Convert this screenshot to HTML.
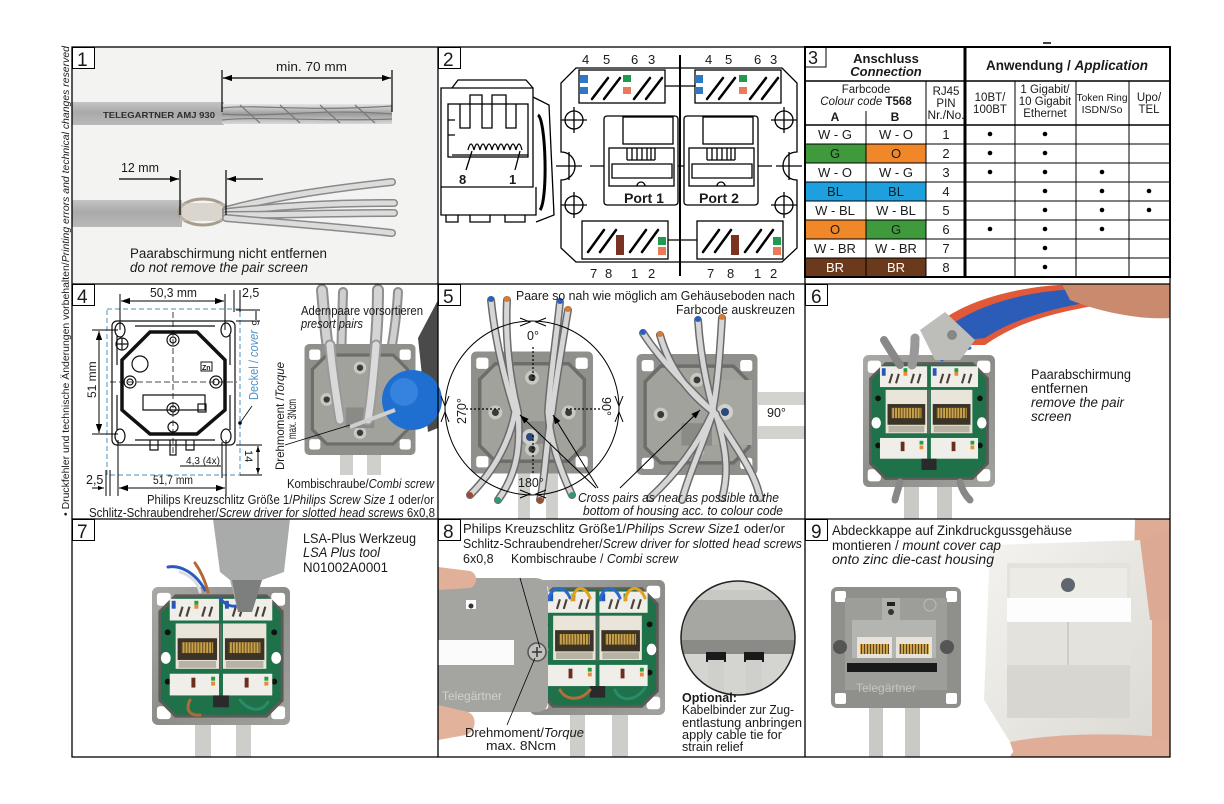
<!DOCTYPE html>
<html><head><meta charset="utf-8">
<style>
html,body{margin:0;padding:0;background:#fff;}
svg{display:block;}
text{font-family:"Liberation Sans",Arial,sans-serif;fill:#1a1a1a;}
</style></head>
<body>
<svg width="1224" height="804" viewBox="0 0 1224 804" xmlns="http://www.w3.org/2000/svg" xmlns:xlink="http://www.w3.org/1999/xlink">
<defs>
  <marker id="ar" viewBox="0 0 10 10" refX="10" refY="5" markerWidth="9" markerHeight="9" orient="auto-start-reverse" markerUnits="userSpaceOnUse"><path d="M0,1.5 L10,5 L0,8.5 z" fill="#000"/></marker>
  <marker id="ars" viewBox="0 0 10 10" refX="10" refY="5" markerWidth="6" markerHeight="6" orient="auto-start-reverse" markerUnits="userSpaceOnUse"><path d="M0,1.5 L10,5 L0,8.5 z" fill="#000"/></marker>
  <linearGradient id="cab" x1="0" y1="0" x2="0" y2="1">
    <stop offset="0" stop-color="#c4c4c4"/><stop offset="0.45" stop-color="#a9a9a9"/><stop offset="1" stop-color="#b9b9b9"/>
  </linearGradient>
  <linearGradient id="foil" x1="0" y1="0" x2="0" y2="1">
    <stop offset="0" stop-color="#e6e6e6"/><stop offset="0.5" stop-color="#9c9c9c"/><stop offset="1" stop-color="#d8d8d8"/>
  </linearGradient>
  <linearGradient id="metal" x1="0" y1="0" x2="1" y2="1">
    <stop offset="0" stop-color="#a9a9a6"/><stop offset="0.5" stop-color="#8c8c89"/><stop offset="1" stop-color="#a2a29f"/>
  </linearGradient>
  <linearGradient id="cap" x1="0" y1="0" x2="1" y2="1">
    <stop offset="0" stop-color="#f4f3ef"/><stop offset="1" stop-color="#dcdad4"/>
  </linearGradient>
  <pattern id="gold" width="3" height="10" patternUnits="userSpaceOnUse">
    <rect width="3" height="10" fill="#c9a24a"/><rect width="1" height="10" fill="#5a4520"/>
  </pattern>
  <symbol id="hs" viewBox="0 0 140 140">
    <rect x="0" y="0" width="140" height="140" rx="6" fill="url(#metal)"/>
    <rect x="5" y="6" width="14" height="13" rx="3" fill="#fff"/>
    <rect x="121" y="6" width="14" height="13" rx="3" fill="#fff"/>
    <rect x="5" y="121" width="14" height="13" rx="3" fill="#fff"/>
    <rect x="121" y="121" width="14" height="13" rx="3" fill="#fff"/>
    <polygon points="24,9 116,9 132,25 132,115 116,131 24,131 8,115 8,25" fill="#1e7149" stroke="#5b5b58" stroke-width="3"/>
    <circle cx="16" cy="46" r="3" fill="#111"/><circle cx="124" cy="46" r="3" fill="#111"/>
    <circle cx="16" cy="96" r="3" fill="#111"/><circle cx="124" cy="96" r="3" fill="#111"/>
    <ellipse cx="14" cy="72" rx="5" ry="6" fill="#fff"/><ellipse cx="126" cy="72" rx="5" ry="6" fill="#fff"/>
    <rect x="18" y="12" width="50" height="22" fill="#efeee9"/>
    <rect x="72" y="12" width="50" height="22" fill="#efeee9"/>
    <rect x="20" y="14" width="4" height="8" fill="#2656b8"/>
    <rect x="43" y="14" width="4" height="4" fill="#2a9a45"/><rect x="43" y="18" width="4" height="4" fill="#e88a30"/>
    <rect x="74" y="14" width="4" height="8" fill="#2656b8"/>
    <rect x="97" y="14" width="4" height="4" fill="#2a9a45"/><rect x="97" y="18" width="4" height="4" fill="#e88a30"/>
    <g stroke="#4a4038" stroke-width="2.2">
      <line x1="28" y1="30" x2="31" y2="20"/><line x1="35" y1="30" x2="38" y2="20"/><line x1="51" y1="30" x2="54" y2="20"/><line x1="58" y1="30" x2="61" y2="20"/>
      <line x1="82" y1="30" x2="85" y2="20"/><line x1="89" y1="30" x2="92" y2="20"/><line x1="105" y1="30" x2="108" y2="20"/><line x1="112" y1="30" x2="115" y2="20"/>
      <line x1="28" y1="106" x2="31" y2="96"/><line x1="35" y1="106" x2="38" y2="96"/><line x1="45" y1="106" x2="48" y2="96"/><line x1="52" y1="106" x2="55" y2="96"/>
      <line x1="82" y1="106" x2="85" y2="96"/><line x1="89" y1="106" x2="92" y2="96"/><line x1="99" y1="106" x2="102" y2="96"/><line x1="106" y1="106" x2="109" y2="96"/>
    </g>
    <rect x="24" y="37" width="44" height="46" fill="#e9e5da"/>
    <rect x="72" y="37" width="44" height="46" fill="#e9e5da"/>
    <rect x="26" y="52" width="40" height="22" fill="#3b3325"/>
    <rect x="74" y="52" width="40" height="22" fill="#3b3325"/>
    <rect x="30" y="56" width="32" height="11" fill="url(#gold)"/>
    <rect x="78" y="56" width="32" height="11" fill="url(#gold)"/>
    <rect x="27" y="75" width="38" height="7" fill="#b8b2a4"/>
    <rect x="75" y="75" width="38" height="7" fill="#b8b2a4"/>
    <line x1="70" y1="37" x2="70" y2="84" stroke="#666" stroke-width="2"/>
    <rect x="18" y="88" width="50" height="22" fill="#efeee9"/>
    <rect x="72" y="88" width="50" height="22" fill="#efeee9"/>
    <rect x="60" y="91" width="4" height="4" fill="#2a9a45"/><rect x="60" y="96" width="4" height="4" fill="#e88a30"/>
    <rect x="114" y="91" width="4" height="4" fill="#2a9a45"/><rect x="114" y="96" width="4" height="4" fill="#e88a30"/>
    <rect x="40" y="92" width="4" height="10" fill="#6a2e1a"/><rect x="94" y="92" width="4" height="10" fill="#6a2e1a"/>
    <rect x="62" y="110" width="16" height="12" fill="#2a2a2a"/>
  </symbol>
  <symbol id="hm" viewBox="0 0 140 140">
    <rect x="0" y="0" width="140" height="140" rx="6" fill="#8f8f8b"/>
    <rect x="6" y="7" width="14" height="13" rx="3" fill="#fff"/>
    <rect x="120" y="7" width="14" height="13" rx="3" fill="#fff"/>
    <rect x="6" y="120" width="14" height="13" rx="3" fill="#fff"/>
    <rect x="120" y="120" width="14" height="13" rx="3" fill="#fff"/>
    <polygon points="28,14 112,14 130,32 130,108 112,126 28,126 10,108 10,32" fill="#a2a29d" stroke="#6d6d69" stroke-width="4"/>
    <circle cx="70" cy="30" r="8" fill="#c8c8c3"/><circle cx="70" cy="30" r="4" fill="#3a3a38"/>
    <circle cx="28" cy="70" r="8" fill="#c8c8c3"/><circle cx="28" cy="70" r="4" fill="#3a3a38"/>
    <circle cx="112" cy="70" r="8" fill="#c8c8c3"/><circle cx="112" cy="70" r="4" fill="#3a3a38"/>
    <circle cx="70" cy="112" r="8" fill="#c8c8c3"/><circle cx="70" cy="112" r="4" fill="#3a3a38"/>
    <rect x="52" y="80" width="36" height="26" fill="#8a8a86"/>
  </symbol>
</defs>

<text transform="translate(69,516) rotate(-90)" font-size="10.5" textLength="470" lengthAdjust="spacingAndGlyphs">• Druckfehler und technische Änderungen vorbehalten/<tspan font-style="italic">Printing errors and technical changes reserved</tspan></text>

<!-- PANEL 1 -->
<rect x="72" y="47" width="366" height="237" fill="#f3f3f1"/>
<rect x="72" y="102" width="152" height="23" fill="url(#cab)"/>
<text x="103" y="118" font-size="8.5" font-weight="bold" textLength="112" lengthAdjust="spacingAndGlyphs" style="fill:#2d2d2d">TELEGARTNER AMJ 930</text>
<rect x="222" y="104" width="170" height="20" fill="url(#foil)"/>
<g stroke="#7a7a7a" stroke-width="1.2" fill="none">
  <path d="M222,108 C260,104 300,112 392,106"/><path d="M222,114 C270,118 320,108 392,114"/><path d="M222,120 C260,116 330,122 392,119"/>
  <path d="M240,105 L260,123 M280,105 L300,123 M320,105 L340,123 M355,105 L375,123"/>
</g>
<rect x="72" y="200" width="110" height="27" fill="url(#cab)"/>
<ellipse cx="203" cy="212" rx="24" ry="13" fill="none" stroke="#a59c8c" stroke-width="3"/>
<rect x="180" y="203" width="46" height="18" fill="#c9c2b5" opacity="0.6"/>
<g fill="none" stroke-linecap="round">
  <path d="M226,210 C270,198 320,190 392,182" stroke="#8a8a8a" stroke-width="8"/>
  <path d="M226,210 C270,198 320,190 392,182" stroke="#dcdcdc" stroke-width="5"/>
  <path d="M226,212 C280,206 330,203 394,203" stroke="#8a8a8a" stroke-width="8"/>
  <path d="M226,212 C280,206 330,203 394,203" stroke="#dcdcdc" stroke-width="5"/>
  <path d="M226,215 C280,215 330,213 394,213" stroke="#8a8a8a" stroke-width="8"/>
  <path d="M226,215 C280,215 330,213 394,213" stroke="#dcdcdc" stroke-width="5"/>
  <path d="M226,218 C270,222 330,226 392,233" stroke="#8a8a8a" stroke-width="8"/>
  <path d="M226,218 C270,222 330,226 392,233" stroke="#dcdcdc" stroke-width="5"/>
</g>
<g stroke="#000" stroke-width="1.2">
  <line x1="222" y1="70" x2="222" y2="112"/><line x1="392" y1="70" x2="392" y2="112"/>
  <line x1="223" y1="78" x2="391" y2="78" marker-start="url(#ar)" marker-end="url(#ar)"/>
  <line x1="180" y1="170" x2="180" y2="215"/><line x1="226" y1="170" x2="226" y2="215"/>
  <line x1="119" y1="179" x2="179" y2="179" marker-end="url(#ar)"/>
  <line x1="263" y1="179" x2="227" y2="179" marker-end="url(#ar)"/>
</g>
<text x="276" y="71" font-size="13" textLength="71" lengthAdjust="spacingAndGlyphs">min. 70 mm</text>
<text x="121" y="172" font-size="13" textLength="38" lengthAdjust="spacingAndGlyphs">12 mm</text>
<text x="130" y="258" font-size="13.5" textLength="197" lengthAdjust="spacingAndGlyphs">Paarabschirmung nicht entfernen</text>
<text x="130" y="272" font-size="13.5" font-style="italic" textLength="178" lengthAdjust="spacingAndGlyphs">do not remove the pair screen</text>

<!-- PANEL 2 -->
<g fill="none" stroke="#000" stroke-width="1.3">
  <path d="M441,187 L441,88 L533,88 L533,187 Z"/>
  <path d="M452,88 L458,80 L526,80 L533,88"/>
  <path d="M533,97 L549,105 L554,215 L536,222"/>
  <path d="M441,187 L441,215 L536,215 L536,187"/>
  <path d="M446,215 L446,222 L458,222 L458,215 M470,215 L470,222 L490,222 L490,215 M505,215 L505,222 L525,222 L525,215"/>
  <rect x="448" y="104" width="80" height="53"/>
  <path d="M460,104 L460,128 L470,128 L470,95 L482,95 L482,128 L492,128 L492,95 L506,95 L506,128 L516,128 L516,104"/>
  <path d="M448,120 L455,120 M448,135 L455,135"/>
  <path d="M468,150 q3,-12 6,0 q3,-12 6,0 q3,-12 6,0 q3,-12 6,0 q3,-12 6,0 q3,-12 6,0 q3,-12 6,0 q3,-12 6,0 q3,-12 6,0"/>
  <line x1="452" y1="155" x2="528" y2="155"/>
  <line x1="466" y1="170" x2="472" y2="151"/>
  <line x1="515" y1="170" x2="520" y2="151"/>
  <path d="M538,115 C546,120 548,200 540,210" stroke-width="3"/>
  <path d="M576,68 L782,68 L797,83 L797,152 C789,152 783,158 783,166 C783,174 789,180 797,180 L797,248 L782,262 L576,262 L561,248 L561,180 C569,180 575,174 575,166 C575,158 569,152 561,152 L561,83 Z"/>
  <rect x="579" y="70" width="86" height="33"/>
  <rect x="695" y="70" width="86" height="33"/>
  <line x1="665" y1="86" x2="695" y2="86"/>
  <rect x="582" y="221" width="86" height="38"/>
  <rect x="697" y="221" width="86" height="38"/>
  <line x1="668" y1="240" x2="697" y2="240"/>
  <rect x="604" y="116" width="74" height="89" rx="3"/>
  <rect x="684" y="116" width="74" height="89" rx="3"/>
  <rect x="623" y="117" width="50" height="27"/>
  <rect x="703" y="117" width="50" height="27"/>
  <rect x="609" y="148" width="65" height="38"/>
  <rect x="689" y="148" width="65" height="38"/>
  <path d="M627,160 L627,148 M655,160 L655,148 M627,160 L655,160 M632,148 L632,160 M637,148 L637,160 M642,148 L642,160 M647,148 L647,160 M651,148 L651,160"/>
  <path d="M707,160 L707,148 M735,160 L735,148 M707,160 L735,160 M712,148 L712,160 M717,148 L717,160 M722,148 L722,160 M727,148 L727,160 M731,148 L731,160"/>
  <path d="M612,164 L672,164 L672,178 L612,178 Z M692,164 L752,164 L752,178 L692,178 Z"/>
  <path d="M637,186 a4,4 0 0 1 8,0 M717,186 a4,4 0 0 1 8,0"/>
  <circle cx="574" cy="120" r="9"/><circle cx="574" cy="205" r="9"/>
  <circle cx="784" cy="120" r="9"/><circle cx="784" cy="205" r="9"/>
  <path d="M574,107 L574,133 M561,120 L587,120 M574,192 L574,218 M561,205 L587,205 M784,107 L784,133 M771,120 L797,120 M784,192 L784,218 M771,205 L797,205"/>
  <path d="M569,152 L569,180 M556,166 L582,166 M789,152 L789,180 M776,166 L802,166"/>
  <path d="M590,166 L604,166 M678,166 L684,166 M758,166 L772,166"/>
</g>
<line x1="680" y1="55" x2="680" y2="276" stroke="#000" stroke-width="2"/>
<g stroke="#000" stroke-width="2.5" stroke-linecap="round">
  <line x1="592" y1="99" x2="608" y2="78"/><line x1="604" y1="99" x2="620" y2="78"/><line x1="634" y1="99" x2="650" y2="78"/><line x1="646" y1="99" x2="662" y2="78"/>
  <line x1="707" y1="99" x2="723" y2="78"/><line x1="719" y1="99" x2="735" y2="78"/><line x1="750" y1="99" x2="766" y2="78"/><line x1="762" y1="99" x2="778" y2="78"/>
  <line x1="588" y1="252" x2="604" y2="230"/><line x1="600" y1="252" x2="616" y2="230"/><line x1="630" y1="252" x2="646" y2="230"/><line x1="642" y1="252" x2="658" y2="230"/>
  <line x1="703" y1="252" x2="719" y2="230"/><line x1="715" y1="252" x2="731" y2="230"/><line x1="745" y1="252" x2="761" y2="230"/><line x1="757" y1="252" x2="773" y2="230"/>
</g>
<rect x="580" y="75" width="8" height="8" fill="#2f78c4"/><rect x="580" y="87" width="8" height="7" fill="#2f78c4"/>
<rect x="623" y="75" width="8" height="7" fill="#1f9a4f"/><rect x="623" y="87" width="8" height="7" fill="#ea7a5a"/>
<rect x="695" y="75" width="8" height="8" fill="#2f78c4"/><rect x="695" y="87" width="8" height="7" fill="#2f78c4"/>
<rect x="739" y="75" width="8" height="7" fill="#1f9a4f"/><rect x="739" y="87" width="8" height="7" fill="#ea7a5a"/>
<rect x="616" y="235" width="8" height="20" fill="#7a3320"/>
<rect x="658" y="237" width="8" height="8" fill="#1f9a4f"/><rect x="658" y="247" width="8" height="8" fill="#ea7a5a"/>
<rect x="731" y="235" width="8" height="20" fill="#7a3320"/>
<rect x="773" y="237" width="8" height="8" fill="#1f9a4f"/><rect x="773" y="247" width="8" height="8" fill="#ea7a5a"/>
<g font-size="13">
  <text x="582" y="64">4</text><text x="603" y="64">5</text><text x="631" y="64">6</text><text x="648" y="64">3</text>
  <text x="705" y="64">4</text><text x="725" y="64">5</text><text x="754" y="64">6</text><text x="770" y="64">3</text>
  <text x="590" y="278">7</text><text x="605" y="278">8</text><text x="631" y="278">1</text><text x="648" y="278">2</text>
  <text x="707" y="278">7</text><text x="727" y="278">8</text><text x="754" y="278">1</text><text x="770" y="278">2</text>
</g>
<text x="459" y="184" font-size="13" font-weight="bold">8</text>
<text x="509" y="184" font-size="13" font-weight="bold">1</text>
<text x="624" y="203" font-size="13.5" font-weight="bold" textLength="40" lengthAdjust="spacingAndGlyphs">Port 1</text>
<text x="699" y="203" font-size="13.5" font-weight="bold" textLength="40" lengthAdjust="spacingAndGlyphs">Port 2</text>

<!-- PANEL 3 TABLE -->
<rect x="805" y="144" width="61" height="19" fill="#3f9a3c"/><rect x="866" y="144" width="60" height="19" fill="#f0882a"/>
<rect x="805" y="182" width="121" height="19" fill="#1ea0df"/>
<rect x="805" y="220" width="61" height="19" fill="#f0882a"/><rect x="866" y="220" width="60" height="19" fill="#3f9a3c"/>
<rect x="805" y="258" width="121" height="19" fill="#6b3a1c"/>
<g stroke="#000" fill="none">
  <rect x="805" y="47" width="365" height="230" stroke-width="2"/>
  <line x1="965" y1="47" x2="965" y2="277" stroke-width="3"/>
  <line x1="805" y1="81" x2="1170" y2="81" stroke-width="1.5"/>
  <line x1="805" y1="125" x2="1170" y2="125" stroke-width="1.5"/>
  <g stroke-width="1">
    <line x1="805" y1="144" x2="1170" y2="144"/><line x1="805" y1="163" x2="1170" y2="163"/>
    <line x1="805" y1="182" x2="1170" y2="182"/><line x1="805" y1="201" x2="1170" y2="201"/>
    <line x1="805" y1="220" x2="1170" y2="220"/><line x1="805" y1="239" x2="1170" y2="239"/>
    <line x1="805" y1="258" x2="1170" y2="258"/>
    <line x1="866" y1="111" x2="866" y2="277"/>
    <line x1="926" y1="81" x2="926" y2="277"/>
    <line x1="1015" y1="81" x2="1015" y2="277"/>
    <line x1="1076" y1="81" x2="1076" y2="277"/>
    <line x1="1129" y1="81" x2="1129" y2="277"/>
  </g>
  <rect x="805" y="47" width="21" height="20" stroke-width="1"/>
</g>
<line x1="1043" y1="43" x2="1051" y2="43" stroke="#000" stroke-width="1.5"/>
<text x="808" y="64" font-size="18">3</text>
<text x="886" y="63" font-size="13" font-weight="bold" text-anchor="middle">Anschluss</text>
<text x="886" y="76" font-size="13" font-weight="bold" font-style="italic" text-anchor="middle">Connection</text>
<text x="1067" y="70" font-size="13.5" font-weight="bold" text-anchor="middle">Anwendung / <tspan font-style="italic">Application</tspan></text>
<text x="866" y="93" font-size="11.5" text-anchor="middle">Farbcode</text>
<text x="866" y="105" font-size="11.5" text-anchor="middle"><tspan font-style="italic">Colour code </tspan><tspan font-weight="bold">T568</tspan></text>
<text x="835" y="121" font-size="12" font-weight="bold" text-anchor="middle">A</text>
<text x="895" y="121" font-size="12" font-weight="bold" text-anchor="middle">B</text>
<g font-size="11.5" text-anchor="middle">
  <text x="946" y="95">RJ45</text><text x="946" y="107">PIN</text><text x="946" y="119" textLength="37" lengthAdjust="spacingAndGlyphs">Nr./No.</text>
  <text x="990" y="101">10BT/</text><text x="990" y="113">100BT</text>
  <text x="1045" y="93">1 Gigabit/</text><text x="1045" y="105">10 Gigabit</text><text x="1045" y="117">Ethernet</text>
  <text x="1102" y="101" font-size="10" textLength="51" lengthAdjust="spacingAndGlyphs">Token Ring</text><text x="1102" y="113" font-size="10.5">ISDN/So</text>
  <text x="1149" y="101">Upo/</text><text x="1149" y="113">TEL</text>
</g>
<g font-size="13" text-anchor="middle">
  <text x="835" y="139">W - G</text><text x="896" y="139">W - O</text><text x="946" y="139">1</text>
  <text x="835" y="158">G</text><text x="896" y="158">O</text><text x="946" y="158">2</text>
  <text x="835" y="177">W - O</text><text x="896" y="177">W - G</text><text x="946" y="177">3</text>
  <text x="835" y="196">BL</text><text x="896" y="196">BL</text><text x="946" y="196">4</text>
  <text x="835" y="215">W - BL</text><text x="896" y="215">W - BL</text><text x="946" y="215">5</text>
  <text x="835" y="234">O</text><text x="896" y="234">G</text><text x="946" y="234">6</text>
  <text x="835" y="253">W - BR</text><text x="896" y="253">W - BR</text><text x="946" y="253">7</text>
  <text x="835" y="272" style="fill:#fff">BR</text><text x="896" y="272" style="fill:#fff">BR</text><text x="946" y="272">8</text>
</g>
<g fill="#000">
  <circle cx="990" cy="134" r="2.3"/><circle cx="1045" cy="134" r="2.3"/>
  <circle cx="990" cy="153" r="2.3"/><circle cx="1045" cy="153" r="2.3"/>
  <circle cx="990" cy="172" r="2.3"/><circle cx="1045" cy="172" r="2.3"/><circle cx="1102" cy="172" r="2.3"/>
  <circle cx="1045" cy="191" r="2.3"/><circle cx="1102" cy="191" r="2.3"/><circle cx="1149" cy="191" r="2.3"/>
  <circle cx="1045" cy="210" r="2.3"/><circle cx="1102" cy="210" r="2.3"/><circle cx="1149" cy="210" r="2.3"/>
  <circle cx="990" cy="229" r="2.3"/><circle cx="1045" cy="229" r="2.3"/><circle cx="1102" cy="229" r="2.3"/>
  <circle cx="1045" cy="248" r="2.3"/>
  <circle cx="1045" cy="267" r="2.3"/>
</g>

<!-- PANEL 4 -->
<rect x="107" y="309" width="133" height="166" fill="none" stroke="#6fa3c8" stroke-width="1.2" stroke-dasharray="5,3"/>
<g fill="none" stroke="#111" stroke-width="1.2">
  <rect x="112" y="321" width="123" height="124" rx="5"/>
  <path d="M117,335 L117,365 M117,395 L117,430 M230,335 L230,365 M230,395 L230,430"/>
  <path d="M135,326 L215,326 M135,440 L215,440"/>
  <polygon points="150,332 197,332 225,360 225,410 197,434 150,434 122,410 122,360" stroke-width="3.5"/>
  <ellipse cx="120" cy="330" rx="5" ry="7"/><ellipse cx="226" cy="330" rx="5" ry="7"/>
  <ellipse cx="120" cy="436" rx="5" ry="7"/><ellipse cx="226" cy="436" rx="5" ry="7"/>
  <circle cx="122" cy="344" r="6"/><path d="M116,344 L128,344 M122,338 L122,350"/>
  <circle cx="140" cy="364" r="8"/>
  <circle cx="173" cy="340" r="6"/><circle cx="173" cy="340" r="3"/>
  <circle cx="130" cy="382" r="6"/><circle cx="130" cy="382" r="3"/>
  <circle cx="216" cy="382" r="6"/><circle cx="216" cy="382" r="3"/>
  <circle cx="173" cy="409" r="6"/><circle cx="173" cy="409" r="3"/>
  <circle cx="173" cy="427" r="5"/>
  <path d="M143,395 L143,410 L205,410 L205,395 Z"/>
  <path d="M150,440 L150,450 L158,450 L158,440 M186,440 L186,450 L194,450 L194,440 M170,440 L170,455 L176,455 L176,440"/>
  <rect x="198" y="404" width="8" height="8"/>
</g>
<rect x="201" y="362" width="11" height="9" fill="#fff" stroke="#111"/>
<text x="202" y="370" font-size="7" font-weight="bold">Zn</text>
<g stroke="#111" stroke-width="0.8" stroke-dasharray="6,3" fill="none">
  <line x1="173" y1="312" x2="173" y2="455"/><line x1="110" y1="382" x2="237" y2="382"/>
</g>
<g stroke="#000" stroke-width="1" fill="none">
  <line x1="120" y1="294" x2="120" y2="330"/><line x1="225" y1="294" x2="225" y2="330"/>
  <line x1="121" y1="301" x2="224" y2="301" marker-start="url(#ar)" marker-end="url(#ar)"/>
  <line x1="92" y1="330" x2="118" y2="330"/><line x1="92" y1="434" x2="118" y2="434"/>
  <line x1="99" y1="331" x2="99" y2="433" marker-start="url(#ar)" marker-end="url(#ar)"/>
  <line x1="118" y1="440" x2="118" y2="496"/><line x1="226" y1="440" x2="226" y2="496"/>
  <line x1="119" y1="488" x2="225" y2="488" marker-start="url(#ar)" marker-end="url(#ar)"/>
  <line x1="106" y1="470" x2="106" y2="496"/><line x1="110" y1="470" x2="110" y2="496"/>
  <line x1="92" y1="488" x2="104" y2="488" marker-end="url(#ars)"/>
  <line x1="234" y1="290" x2="234" y2="312"/><line x1="240" y1="290" x2="240" y2="312"/>
  <line x1="236" y1="310" x2="260" y2="310"/><line x1="236" y1="321" x2="260" y2="321"/>
  <line x1="256" y1="311" x2="256" y2="320"/>
  <line x1="236" y1="445" x2="262" y2="445"/><line x1="240" y1="475" x2="262" y2="475"/>
  <line x1="258" y1="446" x2="258" y2="474" marker-start="url(#ars)" marker-end="url(#ars)"/>
  <line x1="222" y1="442" x2="222" y2="478"/><line x1="226" y1="442" x2="226" y2="478"/>
  <line x1="180" y1="466" x2="221" y2="466"/>
</g>
<circle cx="240" cy="423" r="1.8" fill="#000"/>
<line x1="240" y1="423" x2="252" y2="406" stroke="#000" stroke-width="0.8"/>
<text x="150" y="297" font-size="12.5" textLength="47" lengthAdjust="spacingAndGlyphs">50,3 mm</text>
<text x="242" y="297" font-size="12.5">2,5</text>
<text transform="translate(252,320) rotate(90)" font-size="10">6</text>
<text transform="translate(96,398) rotate(-90)" font-size="12">51 mm</text>
<text transform="translate(258,400) rotate(-90)" font-size="12.5" style="fill:#4f93c6" textLength="70" lengthAdjust="spacingAndGlyphs">Deckel / <tspan font-style="italic">cover</tspan></text>
<text x="186" y="464" font-size="10.5" textLength="34" lengthAdjust="spacingAndGlyphs">4,3 (4x)</text>
<text transform="translate(245,450) rotate(90)" font-size="11">14</text>
<text x="86" y="484" font-size="12.5">2,5</text>
<text x="153" y="484" font-size="11.5" textLength="40" lengthAdjust="spacingAndGlyphs">51,7 mm</text>
<g fill="none" stroke-linecap="round">
  <path d="M322,290 C325,330 330,370 338,415" stroke="#8f8f8f" stroke-width="12"/>
  <path d="M322,290 C325,330 330,370 338,415" stroke="#d2d2d2" stroke-width="8"/>
  <path d="M343,292 C342,330 340,370 342,415" stroke="#8f8f8f" stroke-width="10"/>
  <path d="M343,292 C342,330 340,370 342,415" stroke="#cfcfcf" stroke-width="6"/>
  <path d="M378,290 C378,330 374,370 368,415" stroke="#8f8f8f" stroke-width="12"/>
  <path d="M378,290 C378,330 374,370 368,415" stroke="#d4d4d4" stroke-width="8"/>
  <path d="M398,292 C396,330 388,370 378,415" stroke="#8f8f8f" stroke-width="10"/>
  <path d="M398,292 C396,330 388,370 378,415" stroke="#cfcfcf" stroke-width="6"/>
</g>
<use href="#hm" xlink:href="#hm" x="300" y="344" width="120" height="111"/>
<g fill="none" stroke-linecap="round">
  <path d="M330,345 C332,370 336,395 340,420" stroke="#9a9a9a" stroke-width="11"/>
  <path d="M330,345 C332,370 336,395 340,420" stroke="#d9d9d9" stroke-width="7"/>
  <path d="M376,345 C374,370 372,395 368,420" stroke="#9a9a9a" stroke-width="11"/>
  <path d="M376,345 C374,370 372,395 368,420" stroke="#dadada" stroke-width="7"/>
</g>
<rect x="340" y="455" width="13" height="20" fill="#cfcfcb"/>
<rect x="367" y="455" width="14" height="20" fill="#cfcfcb"/>
<path d="M418,338 L438,300 L438,428 L428,432 Z" fill="#4a4a4a"/>
<circle cx="412" cy="400" r="30" fill="#1f6fd0"/>
<circle cx="404" cy="392" r="14" fill="#3e8ae6" opacity="0.7"/>
<line x1="350" y1="427" x2="395" y2="410" stroke="#cfcfcf" stroke-width="4"/>
<line x1="285" y1="445" x2="350" y2="425" stroke="#000" stroke-width="0.8"/>
<text x="301" y="315" font-size="12.5" textLength="122" lengthAdjust="spacingAndGlyphs">Adernpaare vorsortieren</text>
<text x="301" y="328" font-size="12.5" font-style="italic" textLength="62" lengthAdjust="spacingAndGlyphs">presort pairs</text>
<text transform="translate(284,470) rotate(-90)" font-size="12" textLength="108" lengthAdjust="spacingAndGlyphs">Drehmoment /<tspan font-style="italic">Torque</tspan></text>
<text transform="translate(296,439) rotate(-90)" font-size="12" textLength="40" lengthAdjust="spacingAndGlyphs">max. 3Ncm</text>
<text x="434" y="488" font-size="12.5" text-anchor="end" textLength="147" lengthAdjust="spacingAndGlyphs">Kombischraube/<tspan font-style="italic">Combi screw</tspan></text>
<text x="434" y="504" font-size="12.5" text-anchor="end" textLength="287" lengthAdjust="spacingAndGlyphs">Philips Kreuzschlitz Größe 1/<tspan font-style="italic">Philips Screw Size 1</tspan> oder/or</text>
<text x="89" y="517" font-size="12.5" textLength="346" lengthAdjust="spacingAndGlyphs">Schlitz-Schraubendreher/<tspan font-style="italic">Screw driver for slotted head screws</tspan> 6x0,8</text>

<!-- PANEL 5 -->
<rect x="518" y="470" width="12" height="49" fill="#cfcfcb"/><rect x="546" y="470" width="12" height="49" fill="#cfcfcb"/>
<use href="#hm" xlink:href="#hm" x="471" y="350" width="122" height="125"/>
<rect x="758" y="392" width="47" height="13" fill="#d2d2ce"/><rect x="758" y="426" width="47" height="13" fill="#d2d2ce"/>
<use href="#hm" xlink:href="#hm" x="636" y="354" width="122" height="121"/>
<rect x="712" y="380" width="40" height="65" fill="#a7a7a2"/>
<circle cx="725" cy="412" r="8" fill="#d0d0cc"/><circle cx="725" cy="412" r="4" fill="#2a4a7a"/>
<circle cx="530" cy="437" r="8" fill="#d0d0cc"/><circle cx="530" cy="437" r="4" fill="#2a4a7a"/>
<g fill="none" stroke-linecap="round">
  <g stroke="#6b6b6b" stroke-width="8">
    <path d="M491,300 C495,340 505,380 515,412 C510,440 495,470 470,495"/>
    <path d="M507,300 C505,340 510,380 518,412 C520,440 520,470 498,500"/>
    <path d="M560,302 C556,340 550,380 548,412 C550,440 560,470 572,495"/>
    <path d="M568,310 C562,345 556,380 552,412 C545,450 545,480 540,500"/>
    <path d="M643,333 C660,360 690,390 713,412 C705,440 690,470 682,500"/>
    <path d="M660,335 C670,370 690,395 716,414 C725,445 730,470 722,498"/>
    <path d="M698,320 C700,350 705,380 714,412 C730,440 755,470 760,498"/>
    <path d="M722,318 C720,350 718,385 712,414 C700,440 680,470 650,498"/>
  </g>
  <g stroke="#d6d6d6" stroke-width="5">
    <path d="M491,300 C495,340 505,380 515,412 C510,440 495,470 470,495"/>
    <path d="M507,300 C505,340 510,380 518,412 C520,440 520,470 498,500"/>
    <path d="M560,302 C556,340 550,380 548,412 C550,440 560,470 572,495"/>
    <path d="M568,310 C562,345 556,380 552,412 C545,450 545,480 540,500"/>
    <path d="M643,333 C660,360 690,390 713,412 C705,440 690,470 682,500"/>
    <path d="M660,335 C670,370 690,395 716,414 C725,445 730,470 722,498"/>
    <path d="M698,320 C700,350 705,380 714,412 C730,440 755,470 760,498"/>
    <path d="M722,318 C720,350 718,385 712,414 C700,440 680,470 650,498"/>
  </g>
</g>
<circle cx="491" cy="299" r="3" fill="#2a5fc0"/><circle cx="507" cy="299" r="3" fill="#d87a30"/>
<circle cx="560" cy="301" r="3" fill="#2a5fc0"/><circle cx="568" cy="309" r="3" fill="#d87a30"/>
<circle cx="643" cy="332" r="3" fill="#2a5fc0"/><circle cx="660" cy="334" r="3" fill="#d87a30"/>
<circle cx="698" cy="319" r="3" fill="#2a5fc0"/><circle cx="722" cy="317" r="3" fill="#d87a30"/>
<circle cx="470" cy="495" r="3" fill="#a04a2a"/><circle cx="498" cy="500" r="3" fill="#2a9a7a"/>
<circle cx="572" cy="495" r="3" fill="#2a9a7a"/><circle cx="540" cy="500" r="3" fill="#a04a2a"/>
<circle cx="532" cy="408" r="87" fill="none" stroke="#000" stroke-width="1"/>
<g stroke="#000" stroke-width="1.2" stroke-dasharray="2,2" fill="none">
  <line x1="533" y1="347" x2="533" y2="383"/><line x1="466" y1="409" x2="500" y2="409"/><line x1="566" y1="409" x2="602" y2="409"/>
  <line x1="533" y1="435" x2="533" y2="475"/>
</g>
<g stroke="#000" stroke-width="1" fill="none">
  <path d="M520,318 L530,322 L520,326 M546,318 L536,322 L546,326"/>
  <path d="M441,396 L445,406 L449,396 M441,422 L445,412 L449,422"/>
  <path d="M615,396 L619,406 L623,396 M615,422 L619,412 L623,422"/>
  <path d="M520,490 L530,494 L520,498 M546,490 L536,494 L546,498"/>
  <line x1="596" y1="488" x2="520" y2="415" marker-end="url(#ar)"/>
  <line x1="598" y1="488" x2="553" y2="415" marker-end="url(#ar)"/>
  <line x1="620" y1="488" x2="700" y2="410" marker-end="url(#ar)"/>
</g>
<text x="795" y="300" font-size="12.5" text-anchor="end" textLength="279" lengthAdjust="spacingAndGlyphs">Paare so nah wie möglich am Gehäuseboden nach</text>
<text x="795" y="314" font-size="12.5" text-anchor="end" textLength="119" lengthAdjust="spacingAndGlyphs">Farbcode auskreuzen</text>
<text x="527" y="340" font-size="12.5">0°</text>
<text x="767" y="417" font-size="12.5">90°</text>
<text transform="translate(466,424) rotate(-90)" font-size="12.5">270°</text>
<text transform="translate(602,397) rotate(90)" font-size="12.5">90°</text>
<text x="518" y="487" font-size="12.5">180°</text>
<text x="578" y="502" font-size="12.5" font-style="italic" textLength="201" lengthAdjust="spacingAndGlyphs">Cross pairs as near as possible to the</text>
<text x="583" y="515" font-size="12.5" font-style="italic" textLength="200" lengthAdjust="spacingAndGlyphs">bottom of housing acc. to colour code</text>

<!-- PANEL 6 -->
<rect x="904" y="480" width="15" height="39" fill="#c9c9c5"/><rect x="937" y="480" width="15" height="39" fill="#c9c9c5"/>
<use href="#hs" xlink:href="#hs" x="862" y="355" width="134" height="132"/>
<g fill="none" stroke-linecap="round">
  <path d="M884,340 C890,350 895,358 900,365" stroke="#888" stroke-width="8"/>
  <path d="M915,338 C915,350 914,358 912,365" stroke="#999" stroke-width="9"/>
  <path d="M945,355 C955,348 965,345 975,343" stroke="#d89a55" stroke-width="3"/>
  <path d="M942,360 C952,352 960,350 970,348" stroke="#2a6ad0" stroke-width="3"/>
  <path d="M900,482 C898,490 896,495 895,500" stroke="#888" stroke-width="7"/>
  <path d="M960,482 C962,490 965,495 970,500" stroke="#888" stroke-width="7"/>
</g>
<path d="M945,318 C975,298 1020,286 1075,284 L1100,284 L1098,305 C1060,312 1020,320 985,345 L960,345 Z" fill="#e05a3a"/>
<path d="M955,322 C985,303 1025,292 1075,289 L1092,289 L1090,302 C1055,308 1015,318 985,338 L965,340 Z" fill="#2b5cb8"/>
<polygon points="920,330 945,312 975,340 960,360 935,360" fill="#bdbdba"/>
<circle cx="952" cy="335" r="5" fill="#888"/>
<path d="M1062,284 L1170,284 L1170,318 C1140,320 1100,312 1070,300 Z" fill="#c98a6e"/>
<text x="1031" y="379" font-size="13.5" textLength="100" lengthAdjust="spacingAndGlyphs">Paarabschirmung</text>
<text x="1031" y="393" font-size="13.5">entfernen</text>
<text x="1031" y="407" font-size="13.5" font-style="italic" textLength="93" lengthAdjust="spacingAndGlyphs">remove the pair</text>
<text x="1031" y="421" font-size="13.5" font-style="italic">screen</text>

<!-- PANEL 7 -->
<rect x="195" y="720" width="16" height="37" fill="#cdcdc9"/><rect x="236" y="720" width="15" height="37" fill="#cdcdc9"/>
<use href="#hs" xlink:href="#hs" x="152" y="585" width="138" height="142"/>
<g fill="none" stroke-linecap="round" stroke-width="3">
  <path d="M168,567 C180,565 195,572 205,590" stroke="#2a5ac0"/>
  <path d="M195,563 C200,570 205,580 208,592" stroke="#b06a3a"/>
  <path d="M180,572 C190,575 198,582 200,592" stroke="#ddd"/>
  <path d="M220,598 C225,605 232,608 240,605" stroke="#2a5ac0"/>
  <path d="M190,700 C185,710 190,716 200,715" stroke="#b06a3a"/>
  <path d="M240,700 C250,712 262,712 268,702" stroke="#2a8a6a"/>
</g>
<path d="M213,519 L290,519 L284,572 L262,580 L252,612 L238,612 L230,580 L220,572 Z" fill="#a9abaa"/>
<path d="M232,580 L262,580 L252,612 L238,612 Z" fill="#7d7f7e"/>
<text x="303" y="543" font-size="13.5" textLength="113" lengthAdjust="spacingAndGlyphs">LSA-Plus Werkzeug</text>
<text x="303" y="557" font-size="13.5" font-style="italic" textLength="77" lengthAdjust="spacingAndGlyphs">LSA Plus tool</text>
<text x="303" y="572" font-size="13.5" textLength="85" lengthAdjust="spacingAndGlyphs">N01002A0001</text>

<!-- PANEL 8 -->
<rect x="570" y="710" width="15" height="47" fill="#cdcdc9"/><rect x="612" y="710" width="16" height="47" fill="#cdcdc9"/>
<use href="#hs" xlink:href="#hs" x="526" y="580" width="143" height="135"/>
<g fill="none" stroke-linecap="round" stroke-width="3">
  <path d="M548,600 C552,585 565,585 570,598" stroke="#2a6ad0"/>
  <path d="M572,600 C575,585 585,585 590,598" stroke="#e0a020"/>
  <path d="M600,600 C603,585 615,585 620,598" stroke="#2a6ad0"/>
  <path d="M625,600 C628,585 640,585 645,598" stroke="#e0a020"/>
  <path d="M560,690 C565,700 580,702 590,690" stroke="#b0703a"/>
  <path d="M615,690 C620,702 635,702 645,688" stroke="#2a8a6a"/>
</g>
<path d="M438,578 L535,578 C545,578 548,585 548,595 L548,700 C548,708 545,712 535,712 L438,712 Z" fill="#a4a4a1"/>
<rect x="438" y="640" width="76" height="25" fill="#fbfbfb"/>
<rect x="466" y="600" width="10" height="9" fill="#fff"/>
<circle cx="471" cy="606" r="2.5" fill="#333"/>
<text x="442" y="700" font-size="12" style="fill:#d0d0cc">Telegärtner</text>
<circle cx="537" cy="652" r="9" fill="#c0c0bc" stroke="#555" stroke-width="1.5"/>
<path d="M532,652 L542,652 M537,647 L537,657" stroke="#333" stroke-width="1.5"/>
<path d="M438,567 L470,571 C478,573 478,586 470,588 L438,590 Z" fill="#e0b098"/>
<path d="M438,705 L468,712 C478,716 476,732 466,735 L438,740 Z" fill="#e2b29a"/>
<line x1="520" y1="578" x2="540" y2="648" stroke="#000" stroke-width="0.8"/>
<line x1="507" y1="725" x2="535" y2="658" stroke="#000" stroke-width="0.8"/>
<clipPath id="cc"><circle cx="738" cy="638" r="57"/></clipPath>
<g clip-path="url(#cc)">
  <rect x="680" y="580" width="116" height="116" fill="#d4d4d0"/>
  <path d="M690,600 L790,600 L800,640 L680,640 Z" fill="#a6a6a2"/>
  <path d="M700,590 L780,590 L790,600 L690,600 Z" fill="#c8c8c4"/>
  <rect x="680" y="640" width="120" height="14" fill="#8a8a86"/>
  <rect x="706" y="652" width="20" height="10" fill="#1a1a1a"/><rect x="744" y="652" width="20" height="10" fill="#1a1a1a"/>
  <rect x="708" y="660" width="16" height="40" fill="#cfcfcb"/><rect x="746" y="660" width="16" height="40" fill="#cfcfcb"/>
</g>
<circle cx="738" cy="638" r="57" fill="none" stroke="#222" stroke-width="1.5"/>
<text x="463" y="533" font-size="12.5" textLength="322" lengthAdjust="spacingAndGlyphs">Philips Kreuzschlitz Größe1/<tspan font-style="italic">Philips Screw Size1</tspan> oder/or</text>
<text x="463" y="548" font-size="12.5" textLength="339" lengthAdjust="spacingAndGlyphs">Schlitz-Schraubendreher/<tspan font-style="italic">Screw driver for slotted head screws</tspan></text>
<text x="463" y="563" font-size="12.5">6x0,8</text>
<text x="511" y="563" font-size="12.5" textLength="167" lengthAdjust="spacingAndGlyphs">Kombischraube / <tspan font-style="italic">Combi screw</tspan></text>
<text x="682" y="702" font-size="12.5" font-weight="bold">Optional:</text>
<text x="682" y="714" font-size="12.5" textLength="112" lengthAdjust="spacingAndGlyphs">Kabelbinder zur Zug-</text>
<text x="682" y="727" font-size="12.5" textLength="120" lengthAdjust="spacingAndGlyphs">entlastung anbringen</text>
<text x="682" y="739" font-size="12.5" textLength="100" lengthAdjust="spacingAndGlyphs">apply cable tie for</text>
<text x="682" y="751" font-size="12.5">strain relief</text>
<text x="465" y="737" font-size="12.5" textLength="119" lengthAdjust="spacingAndGlyphs">Drehmoment/<tspan font-style="italic">Torque</tspan></text>
<text x="486" y="750" font-size="12.5" textLength="70" lengthAdjust="spacingAndGlyphs">max. 8Ncm</text>

<!-- PANEL 9 -->
<rect x="869" y="700" width="14" height="57" fill="#c9c9c5"/><rect x="905" y="700" width="15" height="57" fill="#c9c9c5"/>
<rect x="831" y="587" width="130" height="121" rx="6" fill="#8f8f8b"/>
<rect x="835" y="591" width="11" height="11" rx="2" fill="#fff"/><rect x="946" y="591" width="11" height="11" rx="2" fill="#fff"/>
<rect x="835" y="693" width="11" height="11" rx="2" fill="#fff"/><rect x="946" y="693" width="11" height="11" rx="2" fill="#fff"/>
<rect x="845" y="598" width="102" height="92" fill="#9d9d99"/>
<rect x="882" y="598" width="18" height="22" fill="#b0b0ac"/>
<rect x="887" y="602" width="8" height="4" fill="#222"/>
<circle cx="891" cy="612" r="3" fill="#333"/>
<circle cx="930" cy="605" r="6" fill="none" stroke="#bbb" stroke-width="1"/>
<rect x="852" y="620" width="84" height="38" fill="#b4b4b0"/>
<rect x="857" y="637" width="35" height="21" fill="#e8e2d8"/><rect x="896" y="637" width="36" height="21" fill="#e8e2d8"/>
<rect x="860" y="644" width="29" height="10" fill="url(#gold)"/><rect x="899" y="644" width="30" height="10" fill="url(#gold)"/>
<rect x="847" y="663" width="90" height="9" fill="#1a1a1a"/>
<circle cx="840" cy="647" r="7" fill="#555"/><circle cx="947" cy="647" r="7" fill="#555"/>
<text x="856" y="692" font-size="12" style="fill:#c4c4c0">Telegärtner</text>
<path d="M1135,519 L1170,519 L1170,757 L1010,757 C1015,742 1060,732 1130,735 Z" fill="#deab95"/>
<path d="M990,545 L1145,540 L1152,560 L1152,740 L1010,742 L984,700 Z" fill="url(#cap)"/>
<rect x="1007" y="563" width="123" height="155" fill="#e4e2dc"/>
<rect x="1010" y="568" width="117" height="30" fill="#ecebe6"/>
<rect x="1007" y="598" width="124" height="24" fill="#fdfdfd"/>
<line x1="1068" y1="622" x2="1068" y2="665" stroke="#c8c6c0" stroke-width="1.5"/>
<rect x="1007" y="665" width="123" height="53" fill="#d8d6d0"/>
<circle cx="1068" cy="585" r="7" fill="#606670"/>
<path d="M1140,540 L1170,530 L1170,620 L1150,620 Z" fill="#dcaa94"/>
<path d="M1010,742 C1040,736 1090,732 1150,736 L1170,740 L1170,757 L1015,757 Z" fill="#e0ae98"/>
<text x="832" y="535" font-size="13.5" textLength="240" lengthAdjust="spacingAndGlyphs">Abdeckkappe auf Zinkdruckgussgehäuse</text>
<text x="832" y="550" font-size="13.5" textLength="169" lengthAdjust="spacingAndGlyphs">montieren / <tspan font-style="italic">mount cover cap</tspan></text>
<text x="832" y="564" font-size="13.5" font-style="italic" textLength="162" lengthAdjust="spacingAndGlyphs">onto zinc die-cast housing</text>

<!-- FRAMES -->
<g stroke="#000" stroke-width="1.3" fill="none">
  <rect x="72" y="47" width="1098" height="710"/>
  <line x1="438" y1="47" x2="438" y2="757"/>
  <line x1="805" y1="47" x2="805" y2="757"/>
  <line x1="72" y1="284" x2="1170" y2="284"/>
  <line x1="72" y1="519" x2="1170" y2="519"/>
</g>
<g stroke="#000" stroke-width="1" fill="#fff">
  <rect x="72.5" y="47.5" width="22" height="21"/>
  <rect x="438.5" y="47.5" width="22" height="21"/>
  <rect x="72.5" y="284.5" width="22" height="21"/>
  <rect x="438.5" y="284.5" width="22" height="21"/>
  <rect x="805.5" y="284.5" width="22" height="21"/>
  <rect x="72.5" y="519.5" width="22" height="21"/>
  <rect x="438.5" y="519.5" width="22" height="21"/>
  <rect x="805.5" y="519.5" width="22" height="21"/>
</g>
<g font-size="19">
  <text x="77" y="66">1</text>
  <text x="443" y="66">2</text>
  <text x="77" y="303">4</text>
  <text x="443" y="303">5</text>
  <text x="811" y="303">6</text>
  <text x="77" y="538">7</text>
  <text x="443" y="538">8</text>
  <text x="811" y="538">9</text>
</g>
</svg>
</body></html>
